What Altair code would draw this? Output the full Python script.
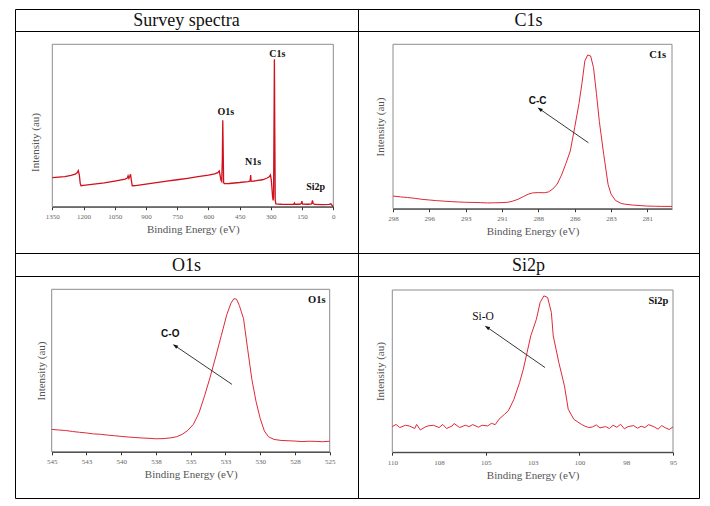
import math
import altair as alt
import pandas as pd

SERIF = "Liberation Serif"
SANS = "Liberation Sans"

# ---------------- data ----------------
headers = ["Survey spectra", "C1s", "O1s", "Si2p"]

survey_ev = [1350, 1320, 1290, 1260, 1240, 1230, 1225, 1220, 1216, 1212,
             1200, 1150, 1100, 1050, 1000, 990, 986, 982, 978, 974,
             970, 966, 950, 900, 850, 800, 750, 700, 650, 600,
             570, 555, 548, 544, 540, 536, 533, 531, 529, 527,
             524, 500, 450, 410, 400, 397, 395, 392, 370, 340,
             320, 308, 302, 298, 295, 292, 289, 287, 285, 283,
             281, 279, 276, 250, 200, 190, 187, 184, 160, 154,
             151, 148, 120, 104, 100, 97, 90, 50, 20, 12,
             8, 4, 0]
survey_int = [17.9, 18.2, 18.5, 19.3, 20.0, 21.0, 22.2, 19.5, 14.5, 12.9,
              13.1, 13.9, 14.7, 15.8, 17.0, 17.6, 19.0, 17.4, 18.6, 20.0,
              16.0, 12.9, 13.0, 13.9, 14.8, 15.7, 16.6, 17.5, 18.5, 19.4,
              20.2, 21.0, 22.0, 19.5, 16.5, 15.6, 30.0, 53.2, 35.0, 15.0,
              14.2, 14.3, 14.9, 15.5, 15.7, 19.5, 16.0, 15.6, 16.0, 16.6,
              17.5, 18.4, 19.5, 16.5, 12.0, 6.5, 3.8, 6.0, 45.0, 90.8,
              45.0, 4.0, 1.8, 1.5, 1.4, 1.5, 2.3, 1.5, 1.5, 2.0,
              3.4, 1.6, 1.5, 1.7, 3.9, 2.0, 1.4, 1.3, 1.4, 1.8,
              1.2, 0.4, 0.0]

c1s_ev = [298.0, 297.5, 297.0, 296.5, 296.0, 295.5, 295.0, 294.5, 294.0, 293.5,
          293.0, 292.5, 292.0, 291.5, 291.0, 290.5, 290.1, 289.8, 289.4, 289.0,
          288.7, 288.4, 288.0, 287.6, 287.3, 287.0, 286.7, 286.4, 286.1, 285.8,
          285.5, 285.2, 285.0, 284.8, 284.6, 284.4, 284.2, 284.0, 283.8, 283.5,
          283.2, 283.0, 282.7, 282.3, 282.0, 281.5, 281.0, 280.5, 280.0, 279.5,
          278.8]
c1s_int = [7.7, 7.2, 6.8, 6.3, 5.7, 5.3, 4.9, 4.6, 4.3, 4.1,
           3.9, 3.8, 3.7, 3.5, 3.6, 3.7, 3.9, 4.5, 5.7, 7.5,
           8.8, 9.6, 9.8, 9.7, 10.2, 12.0, 15.0, 20.5, 27.5, 35.1,
           49.3, 64.0, 76.0, 89.8, 93.5, 92.9, 85.8, 70.0, 53.0, 33.1,
           14.8, 9.0, 5.1, 3.2, 2.7, 2.2, 1.9, 1.6, 1.5, 1.4,
           1.4]

o1s_ev = [545.0, 544.5, 544.0, 543.5, 543.0, 542.5, 542.0, 541.5, 541.0, 540.5,
          540.0, 539.5, 539.0, 538.5, 538.0, 537.5, 537.0, 536.5, 536.0, 535.6,
          535.2, 534.8, 534.4, 534.0, 533.6, 533.2, 532.8, 532.4, 532.1, 531.9,
          531.7, 531.5, 531.2, 530.9, 530.6, 530.3, 530.0, 529.7, 529.4, 529.0,
          528.5, 528.0, 527.5, 527.0, 526.5, 526.0, 525.5, 525.0]
o1s_int = [13.8, 13.4, 13.1, 12.5, 12.0, 11.6, 11.0, 10.8, 10.3, 9.9,
           9.5, 9.1, 8.8, 8.5, 8.3, 8.0, 8.1, 8.5, 9.3, 10.8,
           13.2, 17.0, 24.0, 34.5, 46.0, 58.5, 71.5, 84.5, 91.5, 94.2,
           93.9, 90.0, 82.0, 63.0, 44.6, 31.0, 20.5, 12.8, 9.2, 7.6,
           7.0, 6.8, 6.6, 6.3, 6.5, 6.4, 6.2, 6.5]

si2p_ev = [110.0, 109.8, 109.6, 109.3, 109.1, 108.8, 108.7, 108.5, 108.3, 108.1,
           107.8, 107.5, 107.3, 107.1, 106.8, 106.7, 106.4, 106.1, 105.9, 105.7,
           105.4, 105.2, 104.9, 104.7, 104.5, 104.3, 104.0, 103.8, 103.5, 103.2,
           103.0, 102.8, 102.6, 102.3, 102.1, 101.9, 101.7, 101.5, 101.4, 101.1,
           100.8, 100.6, 100.3, 99.9, 99.7, 99.5, 99.3, 99.1, 98.9, 98.6,
           98.4, 98.2, 98.0, 97.8, 97.6, 97.4, 97.1, 96.9, 96.7, 96.5,
           96.3, 96.0, 95.8, 95.6, 95.4, 95.2, 95.0]
si2p_int = [15.8, 17.1, 15.2, 16.6, 16.2, 14.6, 17.1, 13.7, 15.2, 16.2,
            16.6, 15.2, 17.1, 14.6, 16.2, 17.7, 15.2, 16.6, 15.8, 17.0,
            15.4, 16.6, 16.2, 17.8, 17.0, 20.3, 23.4, 25.5, 32.6, 42.9,
            51.1, 61.4, 71.7, 82.0, 92.3, 96.4, 95.4, 86.1, 71.7, 55.2,
            40.9, 26.5, 20.3, 17.2, 16.0, 15.2, 15.6, 16.8, 15.0, 15.8,
            14.6, 16.6, 15.4, 17.2, 14.4, 15.8, 16.4, 14.8, 16.0, 15.2,
            17.0, 15.6, 14.2, 16.4, 15.0, 14.0, 15.6]

survey_ticks = [1350, 1200, 1050, 900, 750, 600, 450, 300, 150, 0]
c1s_ticks = [298, 295.5, 293, 290.5, 288, 285.5, 283, 280.5]
o1s_ticks = [545, 542.5, 540, 537.5, 535, 532.5, 530, 527.5, 525]
si2p_ticks = [110, 107.5, 105, 102.5, 100, 97.5, 95]

# peak labels: (text, eV, intensity)
survey_labels = [("O1s", 516.8, 58.5), ("N1s", 385.6, 27.7),
                 ("C1s", 268.9, 94.2), ("Si2p", 84.4, 12.3)]
c1s_corner = ("C1s", 279.2, 93.5)
o1s_corner = ("O1s", 525.3, 93.4)
si2p_corner = ("Si2p", 95.25, 93.3)
# arrows: label, label pos, arrow start, arrow end
c1s_arrow = ("C-C", (288.05, 65.4), (284.55, 40.1), (287.88, 60.5))
o1s_arrow = ("C-O", (536.47, 72.7), (532.03, 41.5), (536.1, 65.1))
si2p_arrow = ("Si-O", (105.15, 83.6), (101.84, 52.2), (104.92, 76.9))

# ---------------- layout ----------------
COLW = [343, 341]
HEADH = [22, 23]
BODYH = 222

panels = [
    dict(ev=survey_ev, val=survey_int, domain=[1350, 0], xr=[37.3, 318.3], yr=[175.7, 13.3],
         ticks=survey_ticks, w=COLW[0], color="#d0101c", lw=1.3, ytitle_pad=11.5, ytitle_y=111,
         labels=survey_labels, corner=None, arrow=None, tick_test=None),
    dict(ev=c1s_ev, val=c1s_int, domain=[298, 278.8], xr=[35.0, 314.0], yr=[177.7, 13.3],
         ticks=c1s_ticks, w=COLW[1], color="#e0283a", lw=1.0, ytitle_pad=7.5, ytitle_y=None,
         labels=[], corner=c1s_corner, arrow=c1s_arrow, tick_test=None),
    dict(ev=o1s_ev, val=o1s_int, domain=[545, 525], xr=[36.7, 314.7], yr=[175.8, 13.3],
         ticks=o1s_ticks, w=COLW[0], color="#e0283a", lw=1.0, ytitle_pad=5.0, ytitle_y=None,
         labels=[], corner=o1s_corner, arrow=o1s_arrow, tick_test=None),
    dict(ev=si2p_ev, val=si2p_int, domain=[110, 95], xr=[34.3, 315.0], yr=[176.2, 14.0],
         ticks=si2p_ticks, w=COLW[1], color="#e0283a", lw=1.0, ytitle_pad=7.0, ytitle_y=None,
         labels=[], corner=si2p_corner, arrow=si2p_arrow, tick_test="datum.value % 5 === 0"),
]


def to_px(p, ev, val):
    d0, d1 = p["domain"]
    x = p["xr"][0] + (ev - d0) / (d1 - d0) * (p["xr"][1] - p["xr"][0])
    y = p["yr"][0] + val / 100.0 * (p["yr"][1] - p["yr"][0])
    return x, y


def body(p):
    h = BODYH
    sx = alt.Scale(domain=p["domain"], range=p["xr"], nice=False, zero=False)
    sy = alt.Scale(domain=[0, 100], range=p["yr"], nice=False, zero=False)
    xkw = dict(values=p["ticks"], format=".0f", orient="bottom", offset=-(h - p["yr"][0]),
               title="Binding Energy (eV)", grid=False, tickSize=3, labelPadding=3,
               titlePadding=4, zindex=1, labelFlush=False, labelOverlap=False,
               domainColor="#333", labelFont=SERIF, labelFontSize=7, labelColor="#666",
               titleFont=SERIF, titleFontSize=11, titleColor="#555", titleFontWeight="normal")
    if p["tick_test"]:
        xkw["tickColor"] = {"condition": {"test": p["tick_test"], "value": "#333"},
                            "value": "transparent"}
    else:
        xkw["tickColor"] = "#333"
    xaxis = alt.Axis(**xkw)
    ykw = dict(orient="left", offset=-p["xr"][0], title="Intensity (au)", ticks=False,
               labels=False, domain=False, grid=False, titlePadding=p["ytitle_pad"],
               titleFont=SERIF, titleFontSize=11, titleColor="#555", titleFontWeight="normal")
    if p["ytitle_y"] is not None:
        ykw["titleY"] = p["ytitle_y"]
    yaxis = alt.Axis(**ykw)

    X = alt.X("x:Q", scale=sx, axis=xaxis)
    Y = alt.Y("y:Q", scale=sy, axis=yaxis)

    box_df = pd.DataFrame({"x": [p["domain"][0]], "x2": [p["domain"][1]], "y": [0], "y2": [100]})
    box = alt.Chart(box_df).mark_rect(fillOpacity=0, stroke="#8c8c8c", strokeWidth=1).encode(
        x=X, x2="x2:Q", y=Y, y2="y2:Q")

    df = pd.DataFrame({"x": p["ev"], "y": p["val"]})
    line = alt.Chart(df).mark_line(color=p["color"], strokeWidth=p["lw"]).encode(x=X, y=Y)

    layers = [box, line]

    if p["labels"]:
        ldf = pd.DataFrame({"t": [l[0] for l in p["labels"]],
                            "x": [l[1] for l in p["labels"]],
                            "y": [l[2] for l in p["labels"]]})
        layers.append(alt.Chart(ldf).mark_text(font=SERIF, fontSize=10, fontWeight="bold",
                                               color="#111", baseline="middle").encode(
            x=X, y=Y, text="t:N"))
    if p["corner"]:
        c = p["corner"]
        cdf = pd.DataFrame({"t": [c[0]], "x": [c[1]], "y": [c[2]]})
        layers.append(alt.Chart(cdf).mark_text(font=SERIF, fontSize=10.5, fontWeight="bold",
                                               color="#111", align="right",
                                               baseline="middle").encode(x=X, y=Y, text="t:N"))
    if p["arrow"]:
        txt, tp, a0, a1 = p["arrow"]
        rdf = pd.DataFrame({"x": [a0[0]], "y": [a0[1]], "x2": [a1[0]], "y2": [a1[1]]})
        layers.append(alt.Chart(rdf).mark_rule(color="#222", strokeWidth=0.9).encode(
            x=X, y=Y, x2="x2:Q", y2="y2:Q"))
        p0 = to_px(p, *a0)
        p1 = to_px(p, *a1)
        ang = math.degrees(math.atan2(p1[0] - p0[0], -(p1[1] - p0[1]))) % 360
        hdf = pd.DataFrame({"x": [a1[0]], "y": [a1[1]]})
        layers.append(alt.Chart(hdf).mark_point(shape="M0,-1L0.55,0.7L-0.55,0.7Z", filled=True,
                                                color="#111", opacity=1, size=40,
                                                angle=ang).encode(x=X, y=Y))
        tdf = pd.DataFrame({"t": [txt], "x": [tp[0]], "y": [tp[1]]})
        if txt == "Si-O":
            tm = alt.Chart(tdf).mark_text(font=SERIF, fontSize=11.5, color="#111",
                                          baseline="middle")
        else:
            tm = alt.Chart(tdf).mark_text(font=SANS, fontSize=10, fontWeight="bold",
                                          color="#111", baseline="middle")
        layers.append(tm.encode(x=X, y=Y, text="t:N"))

    return alt.layer(*layers).properties(width=p["w"], height=h)


def header(txt, w, h):
    hd = pd.DataFrame({"t": [txt]})
    return alt.Chart(hd).mark_text(font=SERIF, fontSize=18, color="#111",
                                   baseline="middle").encode(
        text="t:N", x=alt.value(w / 2), y=alt.value(h / 2 + 1)).properties(width=w, height=h)


cells = [
    header(headers[0], COLW[0], HEADH[0]), header(headers[1], COLW[1], HEADH[0]),
    body(panels[0]), body(panels[1]),
    header(headers[2], COLW[0], HEADH[1]), header(headers[3], COLW[1], HEADH[1]),
    body(panels[2]), body(panels[3]),
]

chart = alt.concat(*cells, columns=2, spacing=0, bounds="flush").properties(
    padding={"left": 14, "top": 8, "right": 4, "bottom": 4},
    background="white",
).configure_view(stroke="black", strokeWidth=1)

chart.save("out.html", embed_options={"renderer": "svg", "actions": False})
